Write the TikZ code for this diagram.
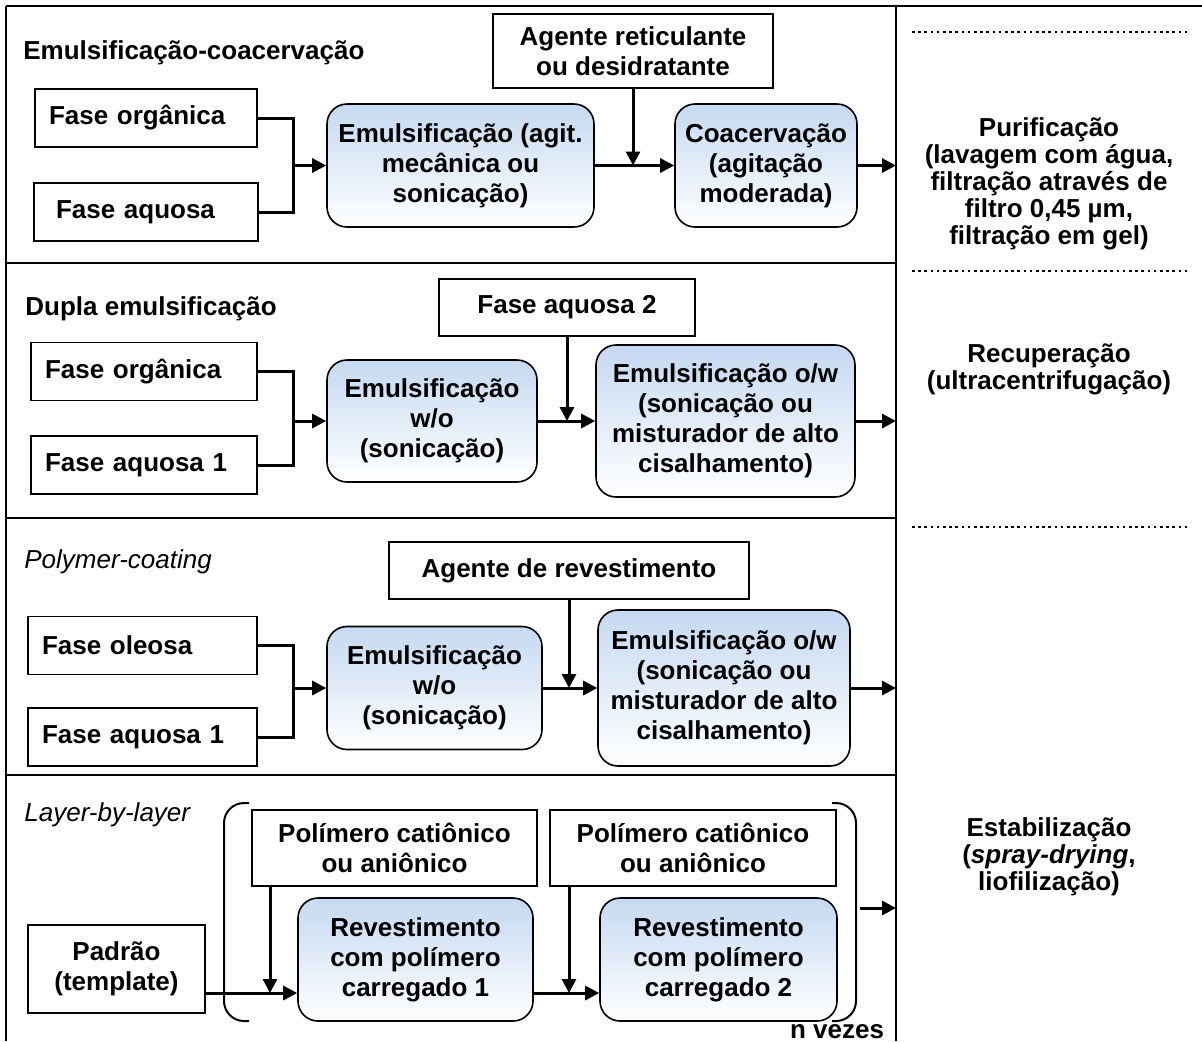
\documentclass[tikz,border=0pt]{standalone}
\usepackage{fontspec}
\setmainfont{Liberation Sans}
\usetikzlibrary{arrows.meta, positioning}
\definecolor{procblue}{RGB}{197,217,241}
\tikzstyle{every node}=[font=\bfseries\fontsize{13}{15}\selectfont]
\tikzstyle{inbox}=[draw,line width=0.8pt,rectangle,align=left,inner xsep=7pt,minimum height=29pt]
\tikzstyle{block}=[draw,line width=0.8pt,rectangle,align=center]
\tikzstyle{proc}=[draw,line width=0.8pt,rectangle,rounded corners=10pt,align=center,top color=procblue,bottom color=white]
\tikzstyle{title}=[anchor=west,inner sep=0pt]
\tikzstyle{ititle}=[title,font=\mdseries\itshape\fontsize{13}{15}\selectfont]
\tikzstyle{side}=[align=center,font=\bfseries\fontsize{13}{13.5}\selectfont]
\tikzstyle{frame}=[line width=1.2pt]
\tikzstyle{dots}=[line width=1.3pt,dash pattern=on 1.3pt off 1.8pt]
\tikzstyle{link}=[line width=1.5pt]
\tikzstyle{bracket}=[line width=1pt,rounded corners=10pt]

\begin{document}
\begin{tikzpicture}[x=0.5pt,y=-0.5pt,>={Triangle[length=7pt,width=7pt]}]
    \useasboundingbox (0,0) rectangle (1202,1041);
    % frame
    \draw[frame] (6,6) -- (1202,6);
    \draw[frame] (6,6) -- (6,1041);
    \draw[frame] (896,6) -- (896,1041);
    \draw[frame] (6,263) -- (896,263);
    \draw[frame] (6,518) -- (896,518);
    \draw[frame] (6,775) -- (896,775);

    % Emulsificacao-coacervacao
    \node[title] (t1) at (23,53) {Emulsificação-coacervação};
    \node[inbox, text width=97pt] (org1) at (146,118) {Fase orgânica};
    \node[inbox, text width=98pt, below of=org1, node distance=47pt] (aq1) {\hspace{4pt}Fase aquosa};
    \coordinate (j1) at (293,165.5);
    \node[proc, minimum width=133.5pt, minimum height=61.5pt] (em1) at (460.5,165.5) {Emulsificação (agit.\\mecânica ou\\sonicação)};
    \node[block, minimum width=140pt, minimum height=37pt] (ag1) at (633,51) {Agente reticulante\\ou desidratante};
    \node[proc, minimum width=91pt, minimum height=61.5pt] (co1) at (766,165.5) {Coacervação\\(agitação\\moderada)};
    \coordinate (s1) at (896,165.5);
    \draw[link] (org1.east) -| (j1) |- (aq1.east);
    \draw[link,->] (j1) -- (em1);
    \draw[link,->] (em1) -- (co1);
    \draw[link,->] (ag1) -- (ag1 |- em1.east);
    \draw[link,->] (co1) -- (s1);

    % Dupla emulsificacao
    \node[title] (t2) at (25,309) {Dupla emulsificação};
    \node[inbox, text width=99pt] (org2) at (144,371.5) {Fase orgânica};
    \node[inbox, text width=99pt, below of=org2, node distance=46.75pt] (aq2) {Fase aquosa 1};
    \coordinate (j2) at (293,421);
    \node[proc, minimum width=105pt, minimum height=61pt] (em2) at (432,421) {Emulsificação\\w/o\\(sonicação)};
    \node[block, minimum width=128pt, minimum height=28.5pt] (fa2) at (567,307.5) {Fase aquosa 2};
    \node[proc, minimum width=129.5pt, minimum height=76pt] (ow2) at (725.5,421) {Emulsificação o/w\\(sonicação ou\\misturador de alto\\cisalhamento)};
    \coordinate (s2) at (896,421);
    \draw[link] (org2.east) -| (j2) |- (aq2.east);
    \draw[link,->] (j2) -- (em2);
    \draw[link,->] (em2) -- (ow2);
    \draw[link,->] (fa2) -- (fa2 |- em2.east);
    \draw[link,->] (ow2) -- (s2);

    % Polymer-coating
    \node[ititle] (t3) at (24,562) {Polymer-coating};
    \node[inbox, text width=100.5pt] (ol3) at (142.5,645.5) {Fase oleosa};
    \node[inbox, text width=100.5pt, below of=ol3, node distance=45.75pt] (aq3) {Fase aquosa 1};
    \coordinate (j3) at (293,688);
    \node[proc, minimum width=107.5pt, minimum height=61.5pt] (em3) at (434.5,688) {Emulsificação\\w/o\\(sonicação)};
    \node[block, minimum width=180pt, minimum height=28.5pt] (ag3) at (569,570.5) {Agente de revestimento};
    \node[proc, minimum width=126pt, minimum height=78pt] (ow3) at (724,688) {Emulsificação o/w\\(sonicação ou\\misturador de alto\\cisalhamento)};
    \coordinate (s3) at (896,688);
    \draw[link] (ol3.east) -| (j3) |- (aq3.east);
    \draw[link,->] (j3) -- (em3);
    \draw[link,->] (em3) -- (ow3);
    \draw[link,->] (ag3) -- (ag3 |- em3.east);
    \draw[link,->] (ow3) -- (s3);

    % Layer-by-layer
    \node[ititle] (t4) at (24,815) {Layer-by-layer};
    \node[block, minimum width=88.5pt, minimum height=44pt] (pad4) at (116.5,969) {Padrão\\(template)};
    \node[block, minimum width=142.5pt, minimum height=38pt] (pol1) at (394.5,848) {Polímero catiônico\\ou aniônico};
    \node[proc, minimum width=117.5pt, minimum height=61.5pt] (rv1) at (415.5,959.5) {Revestimento\\com polímero\\carregado 1};
    \node[block, minimum width=143pt, minimum height=38pt] (pol2) at (693,848) {Polímero catiônico\\ou aniônico};
    \node[proc, minimum width=118.5pt, minimum height=61.5pt] (rv2) at (718.5,959.5) {Revestimento\\com polímero\\carregado 2};
    \coordinate (v1) at (270,993);
    \coordinate (v2) at (569,993);
    \draw[link,->] (pad4.east |- v1) -- (v1 -| rv1.west);
    \draw[link,->] (v1 |- pol1.south) -- (v1);
    \draw[link,->] (rv1.east |- v2) -- (v2 -| rv2.west);
    \draw[link,->] (v2 |- pol2.south) -- (v2);
    \draw[bracket] (249,803) -- (224,803) -- (224,1021) -- (249,1021);
    \draw[bracket] (832,803) -- (856,803) -- (856,1021) -- (832,1021);
    \node[anchor=base, inner sep=0pt] (nv) at (837,1038) {n vezes};
    \coordinate (b4) at (860,908);
    \coordinate (s4) at (896,908);
    \draw[link,->] (b4) -- (s4);

    % right column
    \draw[dots] (912,32) -- (1190,32);
    \draw[dots] (912,271) -- (1190,271);
    \draw[dots] (912,527) -- (1190,527);
    \node[side] (pur) at (1049,184) {Purificação\\(lavagem com água,\\filtração através de\\filtro 0,45 µm,\\filtração em gel)};
    \node[side] (rec) at (1049,369) {Recuperação\\(ultracentrifugação)};
    \node[side] (est) at (1049,857) {Estabilização\\(\textit{spray-drying},\\liofilização)};
\end{tikzpicture}
\end{document}
